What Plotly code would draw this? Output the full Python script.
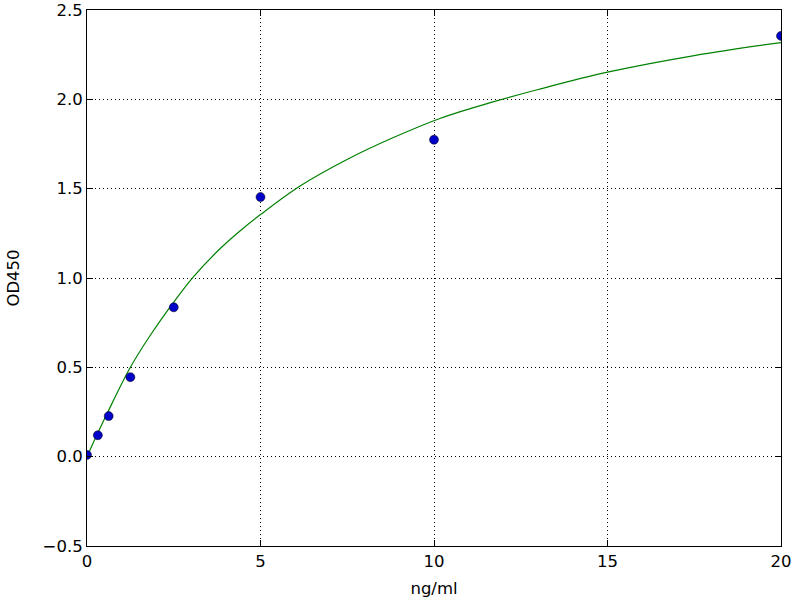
import plotly.graph_objects as go

# Standard points
conc = [0, 0.3125, 0.625, 1.25, 2.5, 5, 10, 20]
od = [0.01, 0.12, 0.227, 0.445, 0.836, 1.453, 1.774, 2.355]

# Fitted curve
curve_x = [0, 0.317, 0.6, 1.25, 1.82, 2.5, 3.06, 3.84, 4.4, 5.0, 6.14, 7.48, 8.83, 10.17, 11.6, 13.0, 15, 17.5, 20]
curve_y = [0.0, 0.135, 0.25, 0.5, 0.678, 0.865, 1.005, 1.165, 1.262, 1.355, 1.515, 1.662, 1.786, 1.893, 1.98, 2.055, 2.152, 2.245, 2.318]

x_ticks = [0, 5, 10, 15, 20]
y_ticks = [-0.5, 0.0, 0.5, 1.0, 1.5, 2.0, 2.5]
y_tick_text = ["\u22120.5", "0.0", "0.5", "1.0", "1.5", "2.0", "2.5"]

font = dict(family="DejaVu Sans", size=16.5, color="black")

fig = go.Figure()
fig.add_trace(go.Scatter(
    x=curve_x, y=curve_y, mode="lines",
    line=dict(color="#008000", width=1.2, shape="spline", smoothing=1.0),
    showlegend=False, hoverinfo="skip",
))
fig.add_trace(go.Scatter(
    x=conc, y=od, mode="markers",
    marker=dict(color="#0000c8", size=9, line=dict(color="black", width=0.5)),
    showlegend=False,
))

axis_common = dict(
    showline=True, linecolor="black", linewidth=1, mirror="ticks",
    ticks="inside", ticklen=6, tickcolor="black", tickwidth=1,
    showgrid=True, gridcolor="black", gridwidth=0.6, griddash="1px,3px",
    zeroline=False, tickfont=font, automargin=False,
)

fig.update_xaxes(range=[0, 20], tickvals=x_ticks,
                 title=dict(text="ng/ml", font=font, standoff=12), **axis_common)
fig.update_yaxes(range=[-0.5, 2.5], tickvals=y_ticks, ticktext=y_tick_text,
                 title=dict(text="OD450", font=font, standoff=18), **axis_common)

fig.update_layout(
    width=800, height=600,
    margin=dict(l=87, r=19, t=10, b=54),
    paper_bgcolor="white", plot_bgcolor="white",
    font=font,
)

fig.write_html("out.html", config={"displayModeBar": False},
               post_script="document.body.style.margin='0';")
